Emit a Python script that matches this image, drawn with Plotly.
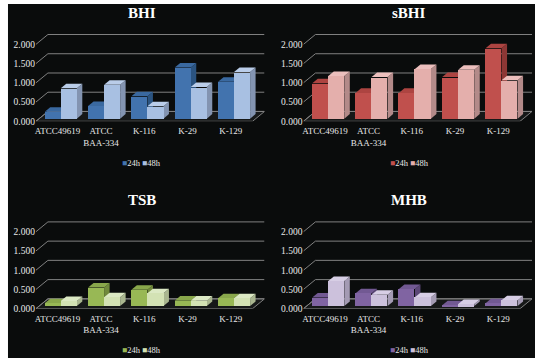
import plotly.graph_objects as go

# ---- data -------------------------------------------------------------
categories = ["ATCC49619", "ATCC<br>BAA-334", "K-116", "K-29", "K-129"]
series_names = ["24h", "48h"]
y_ticks = [0.0, 0.5, 1.0, 1.5, 2.0]

bhi_24h = [0.18, 0.33, 0.58, 1.33, 0.96]
bhi_48h = [0.79, 0.88, 0.32, 0.82, 1.21]
sbhi_24h = [0.92, 0.67, 0.67, 1.08, 1.83]
sbhi_48h = [1.11, 1.08, 1.29, 1.27, 1.00]
tsb_24h = [0.07, 0.48, 0.42, 0.14, 0.20]
tsb_48h = [0.13, 0.23, 0.33, 0.14, 0.20]
mhb_24h = [0.22, 0.33, 0.44, 0.02, 0.07]
mhb_48h = [0.65, 0.29, 0.23, 0.05, 0.15]

# ---- page / geometry (pixels) ----------------------------------------
W, H = 535, 363
CAT_PX = 43.4        # width of one category slot on the front edge
UNIT_PX = 39.0       # pixels per 1.0 on the value axis
PLOT_W = 229         # plot width incl. depth of the back wall
PLOT_H = 90          # plot height above the zero line
WALL_DX, WALL_DY = 12.0, 10.0     # depth of the floor / back wall
FRONT_DX, FRONT_DY = 3.2, 2.7     # bar front plane behind the floor edge
BAR_DX, BAR_DY = 5.5, 4.6         # bar depth
BAR_W = 0.37                      # bar width in category units

BG = "#0a0c0c"
GRID = "#808080"
TXT = "#e8e8e8"
SERIF = "Liberation Serif, Times New Roman, serif"

panels = [
    dict(title="BHI", s1=bhi_24h, s2=bhi_48h, x0=35, y0=123,
         c1=("#4273ae", "#3a69a0", "#2b5481"), c2=("#a8c0e2", "#bacde9", "#8394b1")),
    dict(title="sBHI", s1=sbhi_24h, s2=sbhi_48h, x0=303, y0=123,
         c1=("#c0504d", "#ad4441", "#8d3735"), c2=("#e4afac", "#ecbfbd", "#b38a89")),
    dict(title="TSB", s1=tsb_24h, s2=tsb_48h, x0=35, y0=313,
         c1=("#98b855", "#89a74b", "#70893c"), c2=("#d3e2b4", "#dce9c4", "#a9b68f")),
    dict(title="MHB", s1=mhb_24h, s2=mhb_48h, x0=303, y0=313,
         c1=("#8064a2", "#725993", "#5c4777"), c2=("#ccc1dc", "#d7cee5", "#a49bb4")),
]


def poly(pts):
    return "M " + " L ".join(f"{x:.4f},{y:.4f}" for x, y in pts) + " Z"


fig = go.Figure()
shapes = []
annotations = []

# dark canvas with the thin white frame on the left and top
shapes.append(dict(type="rect", xref="paper", yref="paper", layer="below",
                   x0=7 / W, x1=1, y0=0, y1=1 - 4 / H,
                   fillcolor=BG, line=dict(width=0)))

for k, p in enumerate(panels):
    n = "" if k == 0 else str(k + 1)
    xr, yr = "x" + n, "y" + n
    sx = 1.0 / CAT_PX            # category units per pixel
    sy = 1.0 / UNIT_PX           # value units per pixel
    wdx, wdy = WALL_DX * sx, WALL_DY * sy
    fdx, fdy = FRONT_DX * sx, FRONT_DY * sy
    bdx, bdy = BAR_DX * sx, BAR_DY * sy
    xmax = -0.5 + PLOT_W * sx
    ymax = PLOT_H * sy
    ncat = len(categories)

    ax = dict(domain=[p["x0"] / W, (p["x0"] + PLOT_W) / W], range=[-0.5, xmax],
              showgrid=False, zeroline=False, showline=False, ticks="",
              tickmode="array", tickvals=list(range(ncat)), ticktext=categories,
              ticklabelstandoff=3,
              tickfont=dict(family=SERIF, size=9, color=TXT), fixedrange=True)
    ay = dict(domain=[1 - p["y0"] / H, 1 - (p["y0"] - PLOT_H) / H], range=[0, ymax],
              showgrid=False, zeroline=False, showline=False, ticks="",
              tickmode="array", tickvals=y_ticks, tickformat=".3f",
              tickfont=dict(family=SERIF, size=9.5, color=TXT), fixedrange=True)
    if k:
        ax["anchor"] = yr
        ay["anchor"] = xr
    fig.update_layout(**{"xaxis" + n: ax, "yaxis" + n: ay})

    # floor
    x_end = ncat - 0.5
    shapes.append(dict(type="path", xref=xr, yref=yr, layer="below",
                       path=poly([(-0.5, 0), (x_end, 0), (x_end + wdx, wdy), (-0.5 + wdx, wdy)]),
                       fillcolor="#161818", line=dict(color=GRID, width=1)))
    # side-wall diagonals and back-wall gridlines
    for v in y_ticks:
        shapes.append(dict(type="line", xref=xr, yref=yr, layer="below",
                           x0=-0.5, y0=v, x1=-0.5 + wdx, y1=v + wdy,
                           line=dict(color=GRID, width=1)))
        shapes.append(dict(type="line", xref=xr, yref=yr, layer="below",
                           x0=-0.5 + wdx, y0=v + wdy, x1=xmax, y1=v + wdy,
                           line=dict(color=GRID, width=1)))

    # bars: front faces as bar traces, top and side faces as shapes
    for i in range(ncat):
        for j, (vals, cols) in enumerate(((p["s1"], p["c1"]), (p["s2"], p["c2"]))):
            v = vals[i]
            xl = i + fdx + (j - 1) * BAR_W
            xrt = xl + BAR_W
            top = fdy + v
            shapes.append(dict(type="path", xref=xr, yref=yr, layer="below",
                               path=poly([(xrt, fdy), (xrt + bdx, fdy + bdy),
                                          (xrt + bdx, top + bdy), (xrt, top)]),
                               fillcolor=cols[2], line=dict(width=0)))
            shapes.append(dict(type="path", xref=xr, yref=yr, layer="below",
                               path=poly([(xl, top), (xrt, top),
                                          (xrt + bdx, top + bdy), (xl + bdx, top + bdy)]),
                               fillcolor=cols[1], line=dict(width=0)))

    for j, (vals, cols) in enumerate(((p["s1"], p["c1"]), (p["s2"], p["c2"]))):
        fig.add_trace(go.Bar(
            x=[i + fdx + (j - 0.5) * BAR_W for i in range(ncat)],
            y=vals, base=fdy, width=BAR_W, name=series_names[j],
            marker=dict(color=cols[0], line=dict(width=0)),
            showlegend=False, xaxis=xr, yaxis=yr))

    # panel title
    cx = p["x0"] + 106
    annotations.append(dict(xref="paper", yref="paper", x=cx / W, y=1 - (p["y0"] - 110) / H,
                            text=f"<b>{p['title']}</b>", showarrow=False,
                            font=dict(family=SERIF, size=15, color="#ffffff"),
                            xanchor="center", yanchor="middle"))
    # series key
    key = (f"<span style='color:{p['c1'][0]}'>■</span>{series_names[0]} "
           f"<span style='color:{p['c2'][0]}'>■</span>{series_names[1]}")
    annotations.append(dict(xref="paper", yref="paper", x=cx / W, y=1 - (p["y0"] + 42) / H,
                            text=key, showarrow=False,
                            font=dict(family=SERIF, size=8.5, color=TXT),
                            xanchor="center", yanchor="middle"))

fig.update_layout(
    width=W, height=H, margin=dict(l=0, r=0, t=0, b=0),
    paper_bgcolor="#ffffff", plot_bgcolor="rgba(0,0,0,0)",
    barmode="overlay", bargap=0, shapes=shapes, annotations=annotations,
    showlegend=False,
)

fig.write_html("out.html")
